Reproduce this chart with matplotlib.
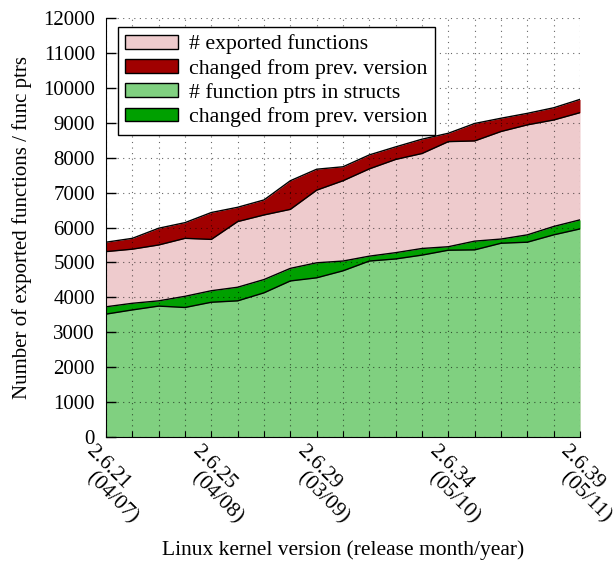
import matplotlib
matplotlib.use("Agg")
import matplotlib.pyplot as plt
from matplotlib.patches import Patch
from matplotlib.transforms import ScaledTranslation
import numpy as np

# kernel versions 2.6.21 .. 2.6.39
versions = list(range(21, 40))
tick_versions = [21, 25, 29, 34, 39]
tick_names = ["2.6.21", "2.6.25", "2.6.29", "2.6.34", "2.6.39"]
tick_dates = ["(04/07)", "(04/08)", "(03/09)", "(05/10)", "(05/11)"]

exported = [5310, 5380, 5500, 5690, 5660, 6170, 6360, 6520, 7070, 7340,
            7680, 7950, 8120, 8460, 8480, 8750, 8940, 9080, 9290]
exported_changed = [270, 310, 480, 450, 770, 410, 430, 820, 600, 400,
                    400, 360, 410, 240, 500, 380, 330, 350, 380]
fptrs = [3520, 3640, 3750, 3710, 3860, 3900, 4130, 4470, 4560, 4760,
         5040, 5100, 5210, 5350, 5360, 5550, 5580, 5790, 5960]
fptrs_changed = [210, 190, 150, 320, 330, 390, 380, 360, 430, 280,
                 140, 180, 190, 100, 250, 120, 210, 240, 260]

labels = ["# exported functions", "changed from prev. version",
          "# function ptrs in structs", "changed from prev. version"]
colors = ["#eecbcd", "#a00000", "#80d080", "#00a000"]

plt.rcParams["font.family"] = ["Liberation Serif", "DejaVu Serif"]
plt.rcParams["font.size"] = 15

fig = plt.figure(figsize=(6.13, 5.65), dpi=100)
ax = fig.add_axes([0.1729, 0.2265, 0.9462 - 0.1729, 0.9681 - 0.2265])

x = np.array(versions)
exp_top = np.array(exported) + np.array(exported_changed)
fp_top = np.array(fptrs) + np.array(fptrs_changed)

ax.fill_between(x, 0, exported, color=colors[0], lw=0, zorder=1)
ax.fill_between(x, exported, exp_top, color=colors[1], lw=0, zorder=1)
ax.fill_between(x, 0, fptrs, color=colors[2], lw=0, zorder=1.1)
ax.fill_between(x, fptrs, fp_top, color=colors[3], lw=0, zorder=1.1)
for line in [exported, exp_top, fptrs, fp_top]:
    ax.plot(x, line, color="black", lw=1.0, zorder=2)

ax.set_xlim(21, 39)
ax.set_ylim(0, 12000)
ax.set_yticks(np.arange(0, 12001, 1000))
ax.set_xticks(tick_versions)
ax.set_xticks(versions, minor=True)
ax.set_xticklabels([])

# two-line rotated labels, each line shifted straight down (gnuplot style)
trans = ax.get_xaxis_transform()
for v, name, date in zip(tick_versions, tick_names, tick_dates):
    for txt, dy in [(name, 0.12), (date, 0.39)]:
        off = ScaledTranslation(-0.165, -dy, fig.dpi_scale_trans)
        ax.text(v, 0, txt, transform=trans + off, rotation=-45,
                ha="left", va="center", rotation_mode="anchor",
                fontsize=15.5, clip_on=False)

ax.set_axisbelow(False)
ax.grid(True, which="both", axis="x", color="black", alpha=0.6,
        linestyle=(0, (1, 4)), lw=0.8)
ax.grid(True, which="major", axis="y", color="black", alpha=0.6,
        linestyle=(0, (1, 4)), lw=0.8)

ax.spines["top"].set_visible(False)
ax.spines["right"].set_visible(False)
ax.tick_params(axis="y", direction="in", length=7, width=1, pad=8)
ax.tick_params(axis="x", which="both", direction="in", length=4, width=0.8, pad=2)

ax.set_ylabel("Number of exported functions / func ptrs", labelpad=8)
ax.set_xlabel("Linux kernel version (release month/year)", fontsize=15.5)
ax.xaxis.set_label_coords(0.5, -0.247)

handles = [Patch(facecolor=c, edgecolor="black", lw=1) for c in colors]
leg = ax.legend(handles, labels, loc="upper left", bbox_to_anchor=(0.025, 0.979),
                borderaxespad=0, fancybox=False, framealpha=1, edgecolor="black",
                handlelength=2.4, handleheight=0.6, handletextpad=0.5,
                labelspacing=0.2, borderpad=0.35, fontsize=15.7)
leg.get_frame().set_linewidth(1)
leg.set_zorder(5)

fig.savefig("out.png", dpi=100)
